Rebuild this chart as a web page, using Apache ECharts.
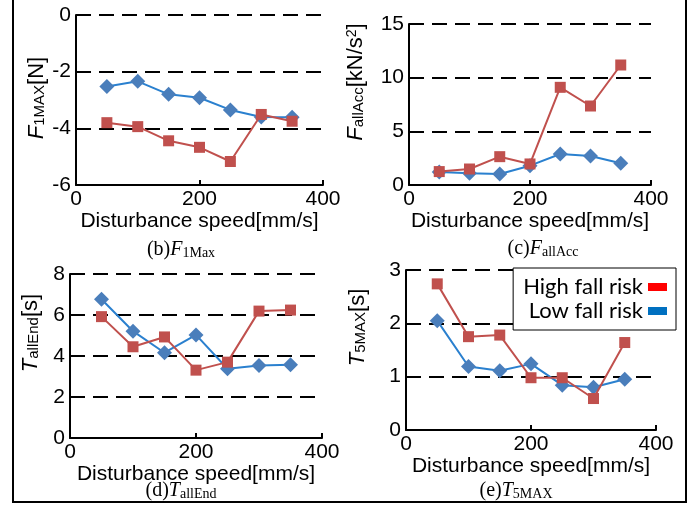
<!DOCTYPE html>
<html><head><meta charset="utf-8">
<script src="https://cdn.jsdelivr.net/npm/echarts@6/dist/echarts.min.js"></script>
<style>html,body{margin:0;padding:0;background:#fff}#c{width:692px;height:513px}</style>
</head><body><div id="c"></div>
<script>
var speeds = [50, 100, 150, 200, 250, 300, 350];
var xTicks = [0, 200, 400];
var seriesNames = ['High fall risk', 'Low fall risk'];
var b_high = [-3.80, -3.94, -4.44, -4.67, -5.17, -3.51, -3.75];
var b_low  = [-2.52, -2.34, -2.80, -2.92, -3.35, -3.60, -3.61];
var c_high = [1.25, 1.49, 2.64, 1.96, 9.10, 7.36, 11.18];
var c_low  = [1.20, 1.09, 1.02, 1.80, 2.89, 2.70, 2.02];
var d_high = [5.92, 4.45, 4.93, 3.31, 3.70, 6.19, 6.24];
var d_low  = [6.77, 5.21, 4.16, 5.03, 3.38, 3.54, 3.57];
var e_high = [2.74, 1.75, 1.78, 0.98, 0.98, 0.59, 1.64];
var e_low  = [2.05, 1.19, 1.11, 1.24, 0.84, 0.80, 0.95];
var yRanges = [[-6, 0, 2], [0, 15, 5], [0, 8, 2], [0, 3, 1]];
var yTitles = [
  '{i|F}{s|1MAX}{n|[N]}',
  '{i|F}{s|allAcc}{n|[kN/s}{sup|2}{n|]}',
  '{i|T}{s|allEnd}{n|[s]}',
  '{i|T}{s|5MAX}{n|[s]}'
];
var captions = [
  '{p|(b)}{i|F}{s|1Max}',
  '{p|(c)}{i|F}{s|allAcc}',
  '{p|(d)}{i|T}{s|allEnd}',
  '{p|(e)}{i|T}{s|5MAX}'
];
var xTitle = 'Disturbance speed[mm/s]';

var grids = [
  {left: 76, top: 15, width: 247, height: 170},
  {left: 409, top: 24, width: 242, height: 161},
  {left: 70, top: 274, width: 252, height: 164},
  {left: 406, top: 270, width: 250, height: 160}
];
var nameGaps = [25, 39, 25, 34];
var namePads = [[0,0,0,4],[0,0,0,45],[0,0,0,46],[0,0,0,45]];
var capPos = [[181, 250], [543, 249], [181, 491], [516, 491]];

var SANS = '"Liberation Sans", Arial, sans-serif';
var SERIF = '"Liberation Serif", "Times New Roman", serif';
var richY = {
  i: {fontFamily: SANS, fontStyle: 'italic', fontSize: 22, lineHeight: 28, color: '#000'},
  s: {fontFamily: SANS, fontSize: 15, padding: [6, 0, 0, 0], color: '#000'},
  n: {fontFamily: SANS, fontSize: 22, lineHeight: 28, color: '#000'},
  sup: {fontFamily: SANS, fontSize: 14, padding: [0, 0, 8, 0], color: '#000'}
};
var richCap = {
  p: {fontFamily: SERIF, fontSize: 20, lineHeight: 26, color: '#000'},
  i: {fontFamily: SERIF, fontStyle: 'italic', fontSize: 20, lineHeight: 26, color: '#000'},
  s: {fontFamily: SERIF, fontSize: 14, padding: [6, 0, 0, 0], color: '#000'}
};

var data = [[b_high, b_low], [c_high, c_low], [d_high, d_low], [e_high, e_low]];
var xAxes = [], yAxes = [], series = [], graphics = [];
grids.forEach(function (g, k) {
  xAxes.push({
    type: 'value', gridIndex: k, min: xTicks[0], max: xTicks[xTicks.length - 1], interval: xTicks[1] - xTicks[0],
    axisLine: {show: true, onZero: false, lineStyle: {color: '#000', width: 2}},
    axisTick: {show: true, inside: true, length: 5, lineStyle: {color: '#000', width: 2}},
    axisLabel: {color: '#000', fontFamily: SANS, fontSize: 21, margin: 4},
    splitLine: {show: false},
    name: xTitle, nameLocation: 'middle', nameGap: 17,
    nameTextStyle: {color: '#000', fontFamily: SANS, fontSize: 21}
  });
  var r = yRanges[k];
  yAxes.push({
    type: 'value', gridIndex: k, min: r[0], max: r[1], interval: r[2],
    axisLine: {show: true, onZero: false, lineStyle: {color: '#000', width: 2}},
    axisTick: {show: false},
    axisLabel: {color: '#000', fontFamily: SANS, fontSize: 21, margin: 5},
    splitLine: {show: true, lineStyle: {color: '#000', width: 2, type: [15, 8]}},
    name: yTitles[k], nameLocation: 'middle', nameGap: nameGaps[k], nameRotate: 90,
    nameTextStyle: {rich: richY, padding: namePads[k]}
  });
  var low = data[k][1].map(function (v, i) { return [speeds[i], v]; });
  var high = data[k][0].map(function (v, i) { return [speeds[i], v]; });
  series.push({
    name: seriesNames[1], type: 'line', xAxisIndex: k, yAxisIndex: k, data: low,
    symbol: 'diamond', symbolSize: 15, showAllSymbol: true,
    lineStyle: {color: '#2a80cf', width: 2}, itemStyle: {color: '#4a7ebb'}, animation: false, z: 3
  });
  series.push({
    name: seriesNames[0], type: 'line', xAxisIndex: k, yAxisIndex: k, data: high,
    symbol: 'rect', symbolSize: 11, showAllSymbol: true,
    lineStyle: {color: '#c0504d', width: 2}, itemStyle: {color: '#c0504d'}, animation: false, z: 4
  });
  graphics.push({
    type: 'text', x: capPos[k][0], y: capPos[k][1], z: 10,
    style: {text: captions[k], rich: richCap, align: 'center', verticalAlign: 'middle'}
  });
});
graphics.push({type: 'line', shape: {x1: 13, y1: 0, x2: 13, y2: 503}, style: {stroke: '#000', lineWidth: 2}});
graphics.push({type: 'line', shape: {x1: 686, y1: 0, x2: 686, y2: 503}, style: {stroke: '#000', lineWidth: 2}});
graphics.push({type: 'line', shape: {x1: 12, y1: 502, x2: 687, y2: 502}, style: {stroke: '#000', lineWidth: 2}});

var chart = echarts.init(document.getElementById('c'), null, {renderer: 'canvas'});
chart.setOption({
  backgroundColor: '#fff',
  animation: false,
  grid: grids,
  xAxis: xAxes,
  yAxis: yAxes,
  series: series,
  legend: {
    orient: 'vertical', align: 'right', right: 16, top: 268, z: 20,
    backgroundColor: '#fff', borderColor: '#000', borderWidth: 1, borderRadius: 0,
    padding: [8, 9, 8, 10], itemGap: 2, itemWidth: 19, itemHeight: 8, icon: 'rect',
    textStyle: {color: '#000', fontFamily: 'Lato, sans-serif', fontSize: 22, lineHeight: 22},
    selectedMode: false,
    data: [
      {name: seriesNames[0], itemStyle: {color: '#ff0000'}},
      {name: seriesNames[1], itemStyle: {color: '#0070c0'}}
    ]
  },
  graphic: graphics
});
</script></body></html>
